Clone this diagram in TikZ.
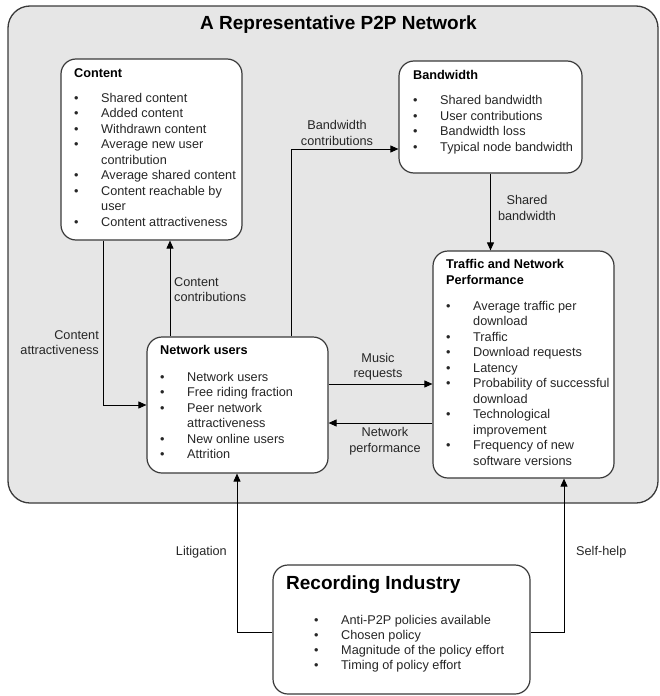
\documentclass[tikz,border=0pt]{standalone}
\usepackage{fontspec}
\setmainfont{Liberation Sans}
\usetikzlibrary{arrows.meta}
\definecolor{bg}{HTML}{E6E6E6}
\definecolor{boxline}{HTML}{3A3A3A}
\definecolor{txt}{HTML}{262626}
\newcommand{\itm}{\textbullet}
\begin{document}
\begin{tikzpicture}[x=1pt,y=-1pt,
  outer/.style={draw=boxline, line width=1.3pt, fill=bg, rounded corners=22pt, inner sep=0pt},
  box/.style={draw=boxline, line width=1.2pt, rounded corners=15pt, fill=white, inner sep=0pt},
  arr/.style={draw=black, line width=0.9pt, -{Triangle[length=8pt,width=7pt]}},
  lbl/.style={font=\fontsize{12.7}{15.5}\selectfont, text=txt, align=center, inner sep=0pt},
  hdr/.style={font=\fontsize{12.7}{15.5}\selectfont\bfseries, anchor=base west, inner sep=0pt},
  lst/.style={font=\fontsize{12.7}{15.5}\selectfont, anchor=base west, inner sep=0pt, text=txt}
]
\useasboundingbox (0,0) rectangle (660,696);

% outer network area
\node[outer, minimum width=650pt, minimum height=497pt] (net) at (333,254.5) {};
\node[font=\fontsize{19}{22}\selectfont\bfseries, anchor=base, inner sep=0pt] (title) at (338.5,29) {A Representative P2P Network};

% boxes
\node[box, minimum width=181pt, minimum height=181pt] (content) at (151.5,149.5) {};
\node[box, minimum width=183pt, minimum height=112pt] (bandwidth) at (490.5,117) {};
\node[box, minimum width=181pt, minimum height=136pt] (users) at (237.5,405) {};
\node[box, minimum width=181pt, minimum height=227pt] (traffic) at (523.5,364.5) {};
\node[box, minimum width=257pt, minimum height=129pt] (industry) at (401.5,629.5) {};

% box texts
\node[hdr] (contentH) at (74,77.5) {Content};
\node[lst] (contentL) at (74,102.5) {\fontsize{12.7}{15.45}\selectfont\begin{tabular}[t]{@{}p{27pt}@{}l@{}}
\itm & Shared content\\
\itm & Added content\\
\itm & Withdrawn content\\
\itm & Average new user\\
     & contribution\\
\itm & Average shared content\\
\itm & Content reachable by\\
     & user\\
\itm & Content attractiveness
\end{tabular}};

\node[hdr] (bandwidthH) at (413,79.5) {Bandwidth};
\node[lst] (bandwidthL) at (413,104.5) {\begin{tabular}[t]{@{}p{27pt}@{}l@{}}
\itm & Shared bandwidth\\
\itm & User contributions\\
\itm & Bandwidth loss\\
\itm & Typical node bandwidth
\end{tabular}};

\node[hdr] (usersH) at (160,354.5) {Network users};
\node[lst] (usersL) at (160,381) {\begin{tabular}[t]{@{}p{27pt}@{}l@{}}
\itm & Network users\\
\itm & Free riding fraction\\
\itm & Peer network\\
     & attractiveness\\
\itm & New online users\\
\itm & Attrition
\end{tabular}};

\node[hdr] (trafficH) at (446,268.5) {\begin{tabular}[t]{@{}l@{}}Traffic and Network\\Performance\end{tabular}};
\node[lst] (trafficL) at (446,310) {\begin{tabular}[t]{@{}p{27pt}@{}l@{}}
\itm & Average traffic per\\
     & download\\
\itm & Traffic\\
\itm & Download requests\\
\itm & Latency\\
\itm & Probability of successful\\
     & download\\
\itm & Technological\\
     & improvement\\
\itm & Frequency of new\\
     & software versions
\end{tabular}};

\node[font=\fontsize{19}{22}\selectfont\bfseries, anchor=base west, inner sep=0pt] (industryH) at (286,589.5) {Recording Industry};
\node[lst] (industryL) at (314,624.5) {\fontsize{12.7}{15}\selectfont\begin{tabular}[t]{@{}p{27pt}@{}l@{}}
\itm & Anti-P2P policies available\\
\itm & Chosen policy\\
\itm & Magnitude of the policy effort\\
\itm & Timing of policy effort
\end{tabular}};

% helper coordinates
\coordinate (xCA) at (103,0);
\coordinate (xCC) at (170,0);
\coordinate (xBC) at (291,0);
\coordinate (yBC) at (0,149);
\coordinate (yMR) at (0,384);
\coordinate (yNP) at (0,423);
\coordinate (yRI) at (0,632);
\coordinate (xLit) at (237,0);
\coordinate (xSH) at (564,0);

% connectors
\draw[arr] (xCA |- content.south) |- (users.west);
\draw[arr] (xCC |- users.north) -- (xCC |- content.south);
\draw[arr] (xBC |- users.north) |- (bandwidth.west |- yBC);
\draw[arr] (bandwidth.south) -- (bandwidth.south |- traffic.north);
\draw[arr] (users.east |- yMR) -- (traffic.west |- yMR);
\draw[arr] (traffic.west |- yNP) -- (users.east |- yNP);
\draw[arr] (industry.west |- yRI) -| (xLit |- users.south);
\draw[arr] (industry.east |- yRI) -| (xSH |- traffic.south);

% connector labels
\node[lbl, anchor=east, align=right] (lCA) at (99,342.5) {Content\\attractiveness};
\node[lbl, anchor=west, align=left] (lCC) at (174,289.5) {Content\\contributions};
\node[lbl] (lBC) at (337,133) {Bandwidth\\contributions};
\node[lbl] (lSB) at (527,208) {Shared\\bandwidth};
\node[lbl] (lMR) at (378,366.5) {Music\\requests};
\node[lbl] (lNP) at (385,441) {Network\\performance};
\node[lbl, anchor=east] (lLit) at (227,552) {Litigation};
\node[lbl, anchor=west] (lSH) at (576,552) {Self-help};
\end{tikzpicture}
\end{document}
